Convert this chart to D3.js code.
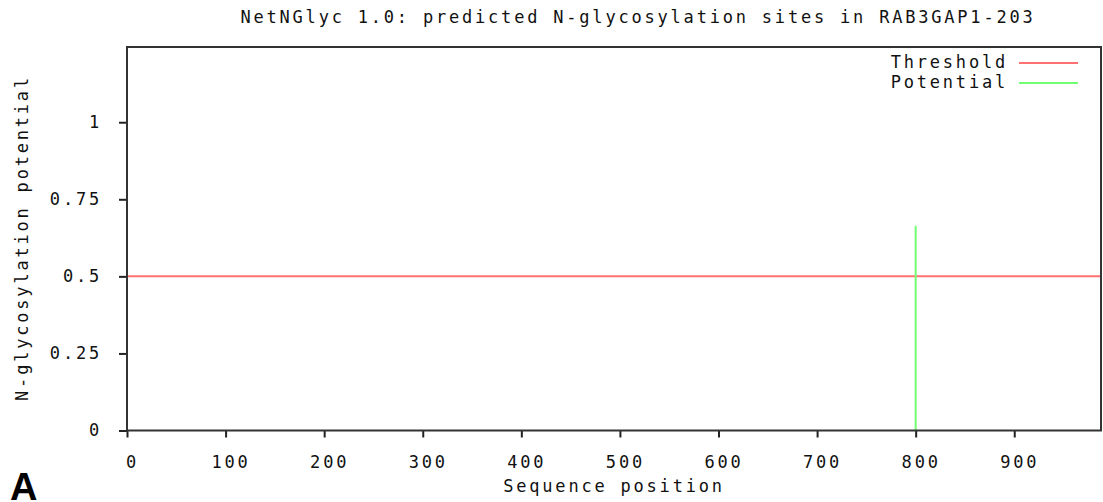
<!DOCTYPE html>
<html>
<head>
<meta charset="utf-8">
<script src="https://cdn.jsdelivr.net/npm/d3@7"></script>
<style>
    body { margin: 0; background: #fff; }
    svg { display: block; }
    .mono { font-family: "DejaVu Sans Mono", monospace; font-size: 17px; letter-spacing: 2.8px; fill: #111; }
</style>
</head>
<body>
<div id="chart"></div>
<script>
// data
const positions = [800];
const potentials = [0.664];
const threshold = 0.5;
const xTicks = [0, 100, 200, 300, 400, 500, 600, 700, 800, 900];
const yTicks = [0, 0.25, 0.5, 0.75, 1];
const yTickLabels = ["0", "0.25", "0.5", "0.75", "1"];
const legendLabels = ["Threshold", "Potential"];
const legendColors = ["#ff7070", "#70ff70"];

const W = 1103, H = 502;
const plot = { left: 127, top: 47, right: 1101, bottom: 430.5 };

const svg = d3.select("#chart").append("svg")
    .attr("width", W)
    .attr("height", H);

const x = d3.scaleLinear().domain([0, 988]).range([plot.left, plot.right]);
const y = d3.scaleLinear().domain([0, 1.244]).range([plot.bottom, plot.top]);

// title
svg.append("text")
    .attr("class", "mono")
    .attr("x", 638).attr("y", 23)
    .attr("text-anchor", "middle")
    .text("NetNGlyc 1.0: predicted N-glycosylation sites in RAB3GAP1-203");

// threshold line
svg.append("line")
    .attr("x1", x(0)).attr("x2", plot.right)
    .attr("y1", y(threshold)).attr("y2", y(threshold))
    .attr("stroke", legendColors[0])
    .attr("stroke-width", 2);

// potential spikes
svg.selectAll(".spike")
    .data(positions)
    .join("line")
    .attr("class", "spike")
    .attr("x1", d => x(d)).attr("x2", d => x(d))
    .attr("y1", y(0))
    .attr("y2", (d, i) => y(potentials[i]))
    .attr("stroke", legendColors[1])
    .attr("stroke-width", 2);

// x axis
const xAxis = svg.append("g")
    .attr("transform", `translate(0, ${plot.bottom})`)
    .call(d3.axisBottom(x).tickValues(xTicks).tickSize(7).tickSizeOuter(0).tickPadding(18));
xAxis.select(".domain").remove();
xAxis.selectAll(".tick line").attr("stroke", "#222").attr("stroke-width", 2);
xAxis.selectAll(".tick text")
    .attr("class", "mono")
    .attr("dx", 5)
    .attr("font-size", null)
    .attr("font-family", null);

// y axis
const yAxis = svg.append("g")
    .attr("transform", `translate(${plot.left}, 0)`)
    .call(d3.axisLeft(y).tickValues(yTicks).tickFormat((d, i) => yTickLabels[i]).tickSize(8).tickSizeOuter(0).tickPadding(17));
yAxis.select(".domain").remove();
yAxis.selectAll(".tick line").attr("stroke", "#222").attr("stroke-width", 2);
yAxis.selectAll(".tick text")
    .attr("class", "mono")
    .attr("font-size", null)
    .attr("font-family", null);

// frame
svg.append("rect")
    .attr("x", plot.left).attr("y", plot.top)
    .attr("width", plot.right - plot.left)
    .attr("height", plot.bottom - plot.top)
    .attr("fill", "none")
    .attr("stroke", "#333")
    .attr("stroke-width", 2);

// axis titles
svg.append("text")
    .attr("class", "mono")
    .attr("x", 614).attr("y", 492)
    .attr("text-anchor", "middle")
    .text("Sequence position");

svg.append("text")
    .attr("class", "mono")
    .attr("transform", "translate(28, 238) rotate(-90)")
    .attr("text-anchor", "middle")
    .text("N-glycosylation potential");

// legend
const legend = svg.append("g");
legendLabels.forEach((lab, i) => {
    const ly = 63 + i * 20;
    legend.append("text")
        .attr("class", "mono")
        .attr("x", 1008).attr("y", ly + 5)
        .attr("text-anchor", "end")
        .text(lab);
    legend.append("line")
        .attr("x1", 1019).attr("x2", 1078)
        .attr("y1", ly).attr("y2", ly)
        .attr("stroke", legendColors[i])
        .attr("stroke-width", 2);
});

// panel letter
svg.append("text")
    .attr("x", 10).attr("y", 500)
    .attr("font-family", "Liberation Sans, Arial, sans-serif")
    .attr("font-weight", "bold")
    .attr("font-size", 38)
    .attr("fill", "#000")
    .text("A");
</script>
</body>
</html>
